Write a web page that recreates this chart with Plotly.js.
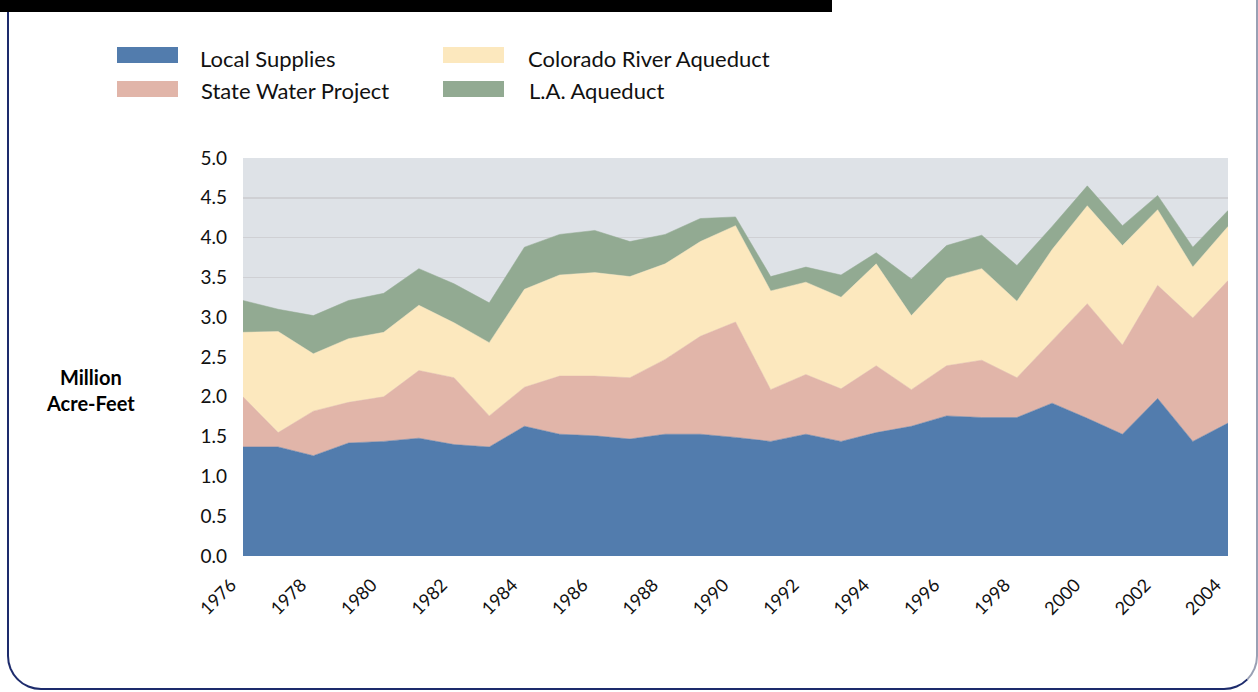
<!DOCTYPE html>
<html>
<head>
<meta charset="utf-8">
<script src="https://cdn.plot.ly/plotly-3.0.1.min.js"></script>
<style>
  html, body { margin:0; padding:0; background:#ffffff; width:1258px; height:692px; overflow:hidden; }
  #topbar { position:absolute; left:0; top:0; width:832px; height:12px; background:#000; z-index:2; }
  #frame { position:absolute; left:7px; top:0px; width:1247px; height:688px; border-left:2px solid #1d2b6c; border-bottom:2px solid #1d2b6c; border-right:2px solid #9aa0b4; border-radius:0 0 34px 34px; z-index:1; box-sizing:content-box; }
  #chart { position:absolute; left:0; top:0; width:1258px; height:692px; z-index:3; }
</style>
</head>
<body>
<div id="topbar"></div>
<div id="frame"></div>
<div id="chart"></div>
<script>
const years = [1976,1977,1978,1979,1980,1981,1982,1983,1984,1985,1986,1987,1988,1989,1990,
               1991,1992,1993,1994,1995,1996,1997,1998,1999,2000,2001,2002,2003,2004];
const localSupplies = [1.37,1.37,1.26,1.42,1.44,1.48,1.40,1.37,1.63,1.53,1.51,1.47,1.53,1.53,1.49,
                       1.44,1.53,1.44,1.55,1.63,1.76,1.74,1.74,1.92,1.73,1.53,1.98,1.44,1.67];
const stateWaterProject = [0.63,0.18,0.56,0.51,0.56,0.85,0.84,0.39,0.49,0.73,0.75,0.77,0.94,1.23,1.45,
                           0.65,0.75,0.66,0.84,0.46,0.63,0.72,0.50,0.78,1.44,1.12,1.42,1.55,1.79];
const coloradoRiverAqueduct = [0.81,1.27,0.72,0.80,0.81,0.82,0.69,0.92,1.23,1.27,1.30,1.27,1.20,1.19,1.21,
                               1.24,1.16,1.15,1.28,0.93,1.10,1.15,0.96,1.15,1.23,1.25,0.95,0.64,0.68];
const laAqueduct = [0.40,0.28,0.48,0.48,0.49,0.46,0.49,0.50,0.53,0.51,0.53,0.44,0.37,0.29,0.11,
                    0.18,0.19,0.28,0.14,0.46,0.41,0.42,0.45,0.29,0.25,0.25,0.18,0.25,0.20];
const seriesNames = ["Local Supplies","State Water Project","Colorado River Aqueduct","L.A. Aqueduct"];
const yTickVals = [0,0.5,1,1.5,2,2.5,3,3.5,4,4.5,5];
const xTickVals = [1976,1978,1980,1982,1984,1986,1988,1990,1992,1994,1996,1998,2000,2002,2004];
const yAxisLabel = "Million<br>Acre-Feet";

const colors = ["#527cad","#e1b5a9","#fce8be","#92aa92"];
const seriesData = [localSupplies, stateWaterProject, coloradoRiverAqueduct, laAqueduct];

const traces = seriesData.map((vals, i) => ({
  type: "scatter",
  mode: "lines",
  x: years,
  y: vals,
  name: seriesNames[i],
  stackgroup: "one",
  line: { width: 0.5, color: colors[i] },
  fillcolor: colors[i],
  showlegend: false,
  hoverinfo: "x+y+name"
}));

// margins in px
const L = 243, R = 30, T = 158, B = 136, W = 1258, H = 692;
const pw = W - L - R, ph = H - T - B;
const px = v => (v - L) / pw;
const py = v => (H - B - v) / ph;

const FONT = "Lato, 'Noto Sans', sans-serif";

// manual legend (two columns)
const legendItems = [
  { name: seriesNames[0], color: colors[0], sx: 117, tx: 198, sy: 55,   ty: 59 },
  { name: seriesNames[1], color: colors[1], sx: 117, tx: 199, sy: 89,   ty: 90.5 },
  { name: seriesNames[2], color: colors[2], sx: 443, tx: 526, sy: 55,   ty: 59 },
  { name: seriesNames[3], color: colors[3], sx: 443, tx: 527, sy: 89,   ty: 90.5 }
];
const shapes = legendItems.map(it => ({
  type: "rect", xref: "paper", yref: "paper",
  x0: px(it.sx), x1: px(it.sx + 61), y0: py(it.sy + 8), y1: py(it.sy - 8),
  fillcolor: it.color, line: { width: 0 }
}));
const annotations = legendItems.map(it => ({
  xref: "paper", yref: "paper", x: px(it.tx), y: py(it.ty),
  xanchor: "left", yanchor: "middle", showarrow: false,
  text: it.name, font: { family: FONT, size: 22, color: "#111" }
}));
annotations.push({
  xref: "paper", yref: "paper", x: px(90), y: py(390),
  xanchor: "center", yanchor: "middle", showarrow: false, align: "center",
  text: "<b>" + yAxisLabel + "</b>", font: { family: FONT, size: 20, color: "#000" }
});

const layout = {
  width: W, height: H,
  margin: { l: L, r: R, t: T, b: B, pad: 0 },
  paper_bgcolor: "rgba(0,0,0,0)",
  plot_bgcolor: "#dee2e7",
  showlegend: false,
  xaxis: {
    range: [1976, 2004],
    tickvals: xTickVals,
    ticktext: xTickVals.map(String),
    tickangle: -45,
    showgrid: false, zeroline: false, showline: false,
    ticks: "", ticklabelstandoff: 14, ticklabelshift: -12,
    tickfont: { family: FONT, size: 18, color: "#111" }
  },
  yaxis: {
    range: [0, 5],
    tickvals: yTickVals,
    ticktext: yTickVals.map(v => v.toFixed(1)),
    showgrid: true, gridcolor: "#cfd0d4", gridwidth: 1.5,
    zeroline: false, showline: false,
    ticks: "", ticklabelstandoff: 15,
    tickfont: { family: FONT, size: 19, color: "#111" }
  },
  shapes: shapes,
  annotations: annotations
};

Plotly.newPlot("chart", traces, layout, { displayModeBar: false, staticPlot: true });
</script>
</body>
</html>
